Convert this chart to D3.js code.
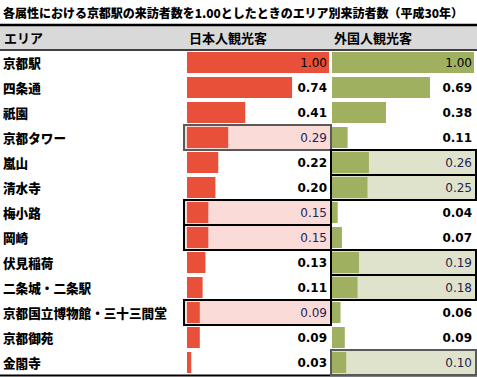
<!DOCTYPE html>
<html>
<head>
<meta charset="utf-8">
<script src="https://cdn.jsdelivr.net/npm/d3@7"></script>
<style>
  html, body { margin: 0; padding: 0; background: #fff; }
  svg { display: block; }
</style>
</head>
<body>
<svg id="chart" width="477" height="377"></svg>
<script>
// Visitor index by area, Kyoto Station = 1.00 for each visitor group
const areas = ["京都駅", "四条通", "祇園", "京都タワー", "嵐山", "清水寺", "梅小路", "岡崎",
  "伏見稲荷", "二条城・二条駅", "京都国立博物館・三十三間堂", "京都御苑", "金閣寺"];
const japanese = [1.00, 0.74, 0.41, 0.29, 0.22, 0.20, 0.15, 0.15, 0.13, 0.11, 0.09, 0.09, 0.03];
const foreign  = [1.00, 0.69, 0.38, 0.11, 0.26, 0.25, 0.04, 0.07, 0.19, 0.18, 0.06, 0.09, 0.10];
// which column is emphasised in each row ("jp", "fg" or none)
const emphasis = ["", "", "", "jp", "fg", "fg", "jp", "jp", "fg", "fg", "jp", "", "fg"];
const columnLabels = ["エリア", "日本人観光客", "外国人観光客"];
const title = "各属性における京都駅の来訪者数を1.00としたときのエリア別来訪者数（平成30年）";

const svg = d3.select("#chart");
const jpFont = "'Noto Sans CJK JP', 'Noto Sans', sans-serif";
const numFont = "'DejaVu Sans', Verdana, sans-serif";

const rows = d3.scaleBand().domain(areas).range([50, 375]).padding(0);
const cols = [
  { key: "jp", values: japanese, x0: 184, x1: 331, barX: 187, bar: "#e8503a", tint: "#fadbd8" },
  { key: "fg", values: foreign,  x0: 331, x1: 476, barX: 332, bar: "#9fb060", tint: "#dfe3cb" }
];
const len = d3.scaleLinear().domain([0, 1]).range([0, 142]);
const softEdge = new Set(["京都タワー", "金閣寺"]);

// title
svg.append("text")
  .attr("x", 3).attr("y", 18)
  .attr("font-family", jpFont).attr("font-weight", 900).attr("font-size", 12)
  .attr("textLength", 460).attr("lengthAdjust", "spacing")
  .attr("fill", "#000")
  .text(title);

// header band
svg.append("rect").attr("x", 0).attr("y", 25).attr("width", 477).attr("height", 24).attr("fill", "#d9d9d9");
svg.append("line").attr("x1", 0).attr("x2", 477).attr("y1", 25).attr("y2", 25)
  .attr("stroke", "#000").attr("stroke-width", 2.5);
svg.append("line").attr("x1", 0).attr("x2", 477).attr("y1", 50).attr("y2", 50)
  .attr("stroke", "#000").attr("stroke-width", 1.5);
svg.append("line").attr("x1", 0).attr("x2", 477).attr("y1", 375.5).attr("y2", 375.5)
  .attr("stroke", "#000").attr("stroke-width", 2);

const headX = [4, 189, 334];
svg.selectAll("text.head").data(columnLabels).join("text")
  .attr("class", "head")
  .attr("x", (d, i) => headX[i]).attr("y", 43)
  .attr("font-family", jpFont).attr("font-weight", 700).attr("font-size", 13)
  .attr("fill", "#000")
  .text(d => d);

// area labels
svg.selectAll("text.area").data(areas).join("text")
  .attr("class", "area")
  .attr("x", 3).attr("y", d => rows(d) + rows.bandwidth() / 2 + 5)
  .attr("font-family", jpFont).attr("font-weight", 900).attr("font-size", 12.6)
  .attr("fill", "#000")
  .text(d => d);

cols.forEach(c => {
  const g = svg.append("g");
  const rowsData = areas.map((a, i) => ({ area: a, v: c.values[i], hi: emphasis[i] === c.key }));

  // tinted background for emphasised cells
  g.selectAll("rect.tint").data(rowsData.filter(d => d.hi)).join("rect")
    .attr("class", "tint")
    .attr("x", c.x0).attr("y", d => rows(d.area))
    .attr("width", c.x1 - c.x0).attr("height", rows.bandwidth())
    .attr("fill", c.tint);

  g.selectAll("rect.bar").data(rowsData).join("rect")
    .attr("class", "bar")
    .attr("x", c.barX).attr("y", d => rows(d.area) + 2)
    .attr("width", d => len(d.v)).attr("height", rows.bandwidth() - 4)
    .attr("fill", c.bar);

  g.selectAll("rect.edge").data(rowsData.filter(d => d.hi)).join("rect")
    .attr("class", "edge")
    .attr("x", c.x0).attr("y", d => rows(d.area))
    .attr("width", c.x1 - c.x0).attr("height", rows.bandwidth())
    .attr("fill", "none")
    .attr("stroke", d => softEdge.has(d.area) ? "#595959" : "#000")
    .attr("stroke-width", 2);

  g.selectAll("text.val").data(rowsData).join("text")
    .attr("class", "val")
    .attr("x", c.x1 - 4).attr("y", d => rows(d.area) + rows.bandwidth() / 2 + 4.5)
    .attr("text-anchor", "end")
    .attr("font-family", numFont).attr("font-size", 12)
    .attr("font-weight", d => (d.hi || d.v >= 1) ? 400 : 700)
    .attr("fill", d => d.hi ? "#1f2450" : "#000")
    .text(d => d.v.toFixed(2));
});
</script>
</body>
</html>
